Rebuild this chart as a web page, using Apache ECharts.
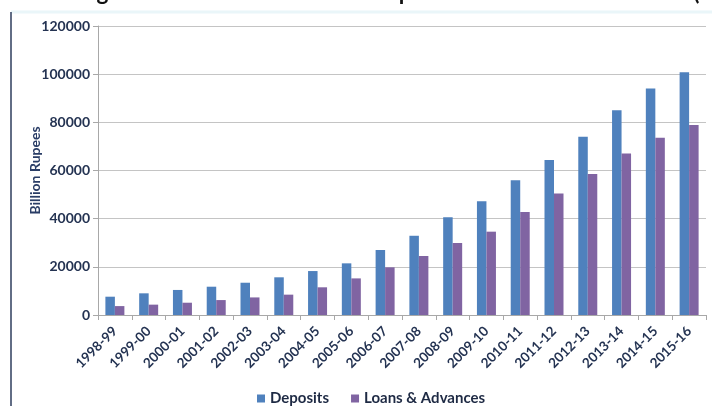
<!DOCTYPE html>
<html>
<head>
<meta charset="utf-8">
<script src="https://cdn.jsdelivr.net/npm/echarts@6/dist/echarts.min.js"></script>
<style>
html,body{margin:0;padding:0;background:#fff;}
#chart{width:712px;height:406px;}
</style>
</head>
<body>
<div id="chart"></div>
<script>
var categories = ['1998-99','1999-00','2000-01','2001-02','2002-03','2003-04','2004-05','2005-06','2006-07','2007-08','2008-09','2009-10','2010-11','2011-12','2012-13','2013-14','2014-15','2015-16'];
var deposits = [7600, 9000, 10400, 11750, 13400, 15650, 18250, 21450, 27000, 32900, 40550, 47200, 55900, 64350, 74000, 85000, 94100, 100750];
var loansAdvances = [3700, 4300, 5100, 6200, 7300, 8450, 11500, 15200, 19800, 24500, 29900, 34600, 42750, 50500, 58550, 67100, 73600, 78900];
var yTicks = [0, 20000, 40000, 60000, 80000, 100000, 120000];
var titleText = 'Figure 1: Trend of Total Bank Deposits and Loans & Advances (';

var chart = echarts.init(document.getElementById('chart'), null, {renderer: 'canvas'});
var labelColor = '#243352';
var fontFam = 'Lato, "Open Sans", sans-serif';
chart.setOption({
  animation: false,
  backgroundColor: '#ffffff',
  graphic: [
    {type: 'text', left: 78, top: -19, style: {text: titleText, font: 'bold 22.5px ' + fontFam, fill: '#111'}},
    {type: 'line', shape: {x1: 11, y1: 12, x2: 712, y2: 12}, style: {stroke: '#eaf6f9', lineWidth: 3}},
    {type: 'line', shape: {x1: 11, y1: 12, x2: 11, y2: 406}, style: {stroke: '#2e3c5c', lineWidth: 1.5}}
  ],
  grid: {left: 98, right: 6, top: 26, bottom: 91, containLabel: false},
  legend: {
    left: 252, top: 386,
    icon: 'rect', itemWidth: 8, itemHeight: 8, itemGap: 22,
    textStyle: {fontFamily: fontFam, fontWeight: 'bold', fontSize: 15, color: '#1e2a44'},
    data: ['Deposits', 'Loans & Advances']
  },
  xAxis: {
    type: 'category',
    data: categories,
    axisLine: {lineStyle: {color: '#a8a8a8'}},
    axisTick: {show: true, alignWithLabel: false, length: 5, lineStyle: {color: '#a8a8a8'}},
    axisLabel: {rotate: 45, interval: 0, margin: 14, fontFamily: fontFam, fontWeight: 'bold', fontSize: 13.5, color: labelColor}
  },
  yAxis: {
    type: 'value',
    min: yTicks[0], max: yTicks[yTicks.length - 1], interval: 20000,
    name: 'Billion Rupees',
    nameLocation: 'middle',
    nameGap: 56,
    nameMoveOverlap: false,
    nameTextStyle: {fontFamily: fontFam, fontWeight: 'bold', fontSize: 14, color: '#2a3d66'},
    axisLine: {show: true, lineStyle: {color: '#a8a8a8'}},
    axisTick: {show: true, length: 5, lineStyle: {color: '#a8a8a8'}},
    splitLine: {lineStyle: {color: '#c4c4c4', width: 1}},
    axisLabel: {margin: 8, fontFamily: fontFam, fontWeight: 'bold', fontSize: 14, color: labelColor,
      formatter: function (v) { return String(v); }}
  },
  series: [
    {name: 'Deposits', type: 'bar', data: deposits, barWidth: 9.5, barGap: '0%', itemStyle: {color: '#4F81BD'}},
    {name: 'Loans & Advances', type: 'bar', data: loansAdvances, barWidth: 9.5, barGap: '0%', itemStyle: {color: '#8064A2'}}
  ]
});
</script>
</body>
</html>
